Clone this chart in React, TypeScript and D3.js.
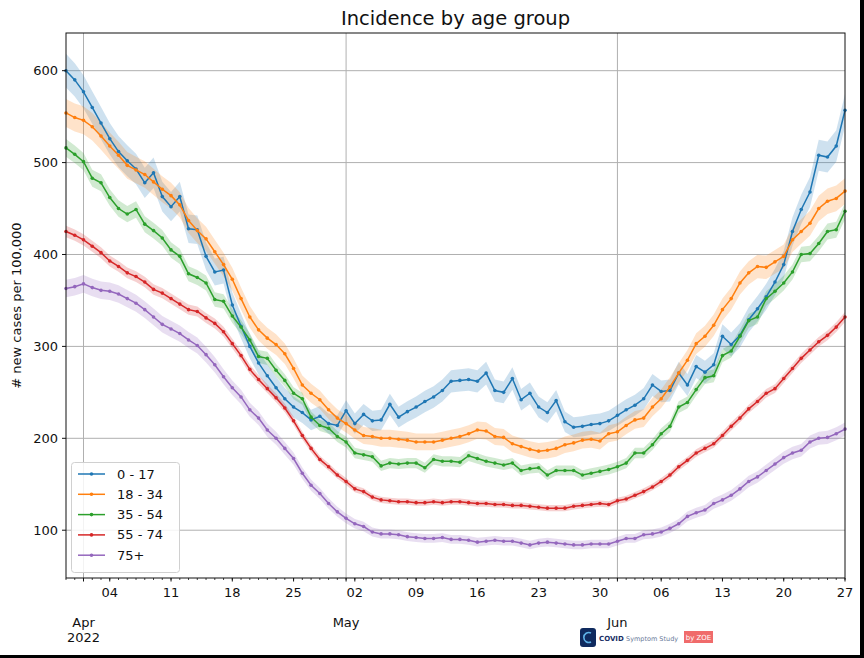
import React from "react";
import * as d3 from "d3";

const START = new Date(2022, 2, 30);
const END = new Date(2022, 5, 27);
const dates: Date[] = d3.timeDay.range(START, d3.timeDay.offset(END, 1));

const seriesNames = ["0 - 17", "18 - 34", "35 - 54", "55 - 74", "75+"];
const seriesColors = ["#1f77b4", "#ff7f0e", "#2ca02c", "#d62728", "#9467bd"];
// confidence band half-width scale (multiplied by sqrt of the value)
const ciScale = [0.75, 0.65, 0.42, 0.3, 0.5];

const age0_17 = [600,590,577,560,543,526,512,502,493,478,
489,463,452,463,428,427,398,381,383,345,
322,300,282,268,255,243,234,228,220,224,
216,214,230,216,226,219,220,237,223,229,
234,240,245,252,262,263,264,262,271,252,
250,265,242,249,234,228,241,218,212,213,
215,216,219,225,231,236,243,258,251,252,
271,258,278,272,280,311,302,312,329,341,
354,370,389,425,449,468,508,506,518,557];

const age18_34 = [554,549,546,539,529,518,508,497,492,487,
479,471,464,454,437,426,417,403,389,373,
352,332,318,309,302,292,276,258,249,242,
231,222,216,209,203,202,200,200,199,198,
196,196,196,198,200,202,205,209,208,202,
201,194,191,188,186,187,189,193,195,198,
199,197,205,207,214,220,222,234,243,256,
271,285,303,311,323,340,352,369,380,387,
386,392,398,416,425,434,450,458,461,469];

const age35_54 = [516,509,501,483,478,462,450,444,449,433,
426,418,405,398,379,375,369,351,349,333,
321,307,289,287,274,263,249,243,223,214,
211,202,196,184,182,180,170,173,172,173,
173,168,177,175,175,174,181,178,175,173,
171,173,165,167,168,160,165,165,165,160,
162,164,166,169,173,184,184,193,205,213,
234,239,253,266,268,290,295,311,328,332,
352,360,369,381,400,401,412,425,427,447];

const age55_74 = [425,421,416,409,402,393,387,380,376,370,
362,358,352,346,340,338,331,325,316,303,
290,275,264,254,244,233,219,203,189,177,
169,160,153,145,142,136,133,132,131,131,
130,130,131,130,131,131,130,129,129,128,
128,127,127,126,125,124,124,124,126,127,
128,129,128,132,134,138,142,147,153,160,
169,176,184,189,194,203,213,222,232,240,
249,254,265,276,287,296,305,312,321,332];

const age75plus = [363,365,368,364,361,360,357,352,347,340,
332,324,319,314,307,301,291,280,267,255,
245,231,222,209,200,189,178,162,149,140,
129,120,113,107,104,98,96,96,95,93,
92,91,91,92,90,90,89,87,88,89,
88,88,86,84,86,87,86,85,84,84,
85,85,85,88,91,91,95,96,98,102,
107,115,119,122,129,133,138,145,153,158,
165,172,179,184,187,196,200,201,205,210];

const seriesValues = [age0_17, age18_34, age35_54, age55_74, age75plus];
const yTicks = [100, 200, 300, 400, 500, 600];

const L = 66, R = 845, T = 33, B = 578;
const FONT = "DejaVu Sans, sans-serif";

export default function App() {
  const x = d3.scaleTime().domain([START, END]).range([L, R]);
  const y = d3.scaleLinear().domain([48, 641]).range([B, T]);

  const line = d3.line<[Date, number]>().x(d => x(d[0])).y(d => y(d[1]));
  const days = d3.timeDay.range(START, d3.timeDay.offset(END, 1));
  const weeks = d3.timeMonday.range(START, d3.timeDay.offset(END, 1));
  const months = d3.timeMonth.range(d3.timeDay.offset(START, 1), d3.timeDay.offset(END, 1));
  const fmtDay = d3.timeFormat("%d");
  const fmtMon = d3.timeFormat("%b");

  return (
    <div style={{ position: "absolute", left: 0, top: 0 }}>
      <svg width={864} height={658} style={{ display: "block", background: "#fff" }} fontFamily={FONT}>
        <rect x={0} y={0} width={864} height={658} fill="#fff" />
        <text x={(L + R) / 2} y={25} textAnchor="middle" fontSize={19.5} fill="#111">Incidence by age group</text>

        {/* grid */}
        {yTicks.map(t => (
          <line key={"gy" + t} x1={L} x2={R} y1={y(t)} y2={y(t)} stroke="#b0b0b0" strokeWidth={1} />
        ))}
        {months.map(m => (
          <line key={"gx" + m.getTime()} x1={x(m)} x2={x(m)} y1={T} y2={B} stroke="#b0b0b0" strokeWidth={1} />
        ))}

        {/* bands */}
        {seriesValues.map((vals, i) => {
          const area = d3.area<number>()
            .x((_, k) => x(dates[k]))
            .y0(v => y(v - ciScale[i] * Math.sqrt(v)))
            .y1(v => y(v + ciScale[i] * Math.sqrt(v)));
          return <path key={"band" + i} d={area(vals) || ""} fill={seriesColors[i]} fillOpacity={0.22} stroke="none" />;
        })}

        {/* lines */}
        {seriesValues.map((vals, i) => {
          const pts: [Date, number][] = vals.map((v, k) => [dates[k], v]);
          return (
            <g key={"s" + i}>
              <path d={line(pts) || ""} fill="none" stroke={seriesColors[i]} strokeWidth={1.5} />
              {pts.map((p, k) => (
                <circle key={k} cx={x(p[0])} cy={y(p[1])} r={1.8} fill={seriesColors[i]} />
              ))}
            </g>
          );
        })}

        {/* frame */}
        <rect x={L} y={T} width={R - L} height={B - T} fill="none" stroke="#111" strokeWidth={1} />

        {/* y axis */}
        {yTicks.map(t => (
          <g key={"yt" + t}>
            <line x1={L - 4} x2={L} y1={y(t)} y2={y(t)} stroke="#111" />
            <text x={L - 8} y={y(t)} dy="0.35em" textAnchor="end" fontSize={13} fill="#111">{t}</text>
          </g>
        ))}
        <text transform={`translate(21,${(T + B) / 2}) rotate(-90)`} textAnchor="middle" fontSize={13} fill="#111"># new cases per 100,000</text>

        {/* x axis */}
        {days.map(d => (
          <line key={"dt" + d.getTime()} x1={x(d)} x2={x(d)} y1={B} y2={B + 2} stroke="#111" strokeWidth={0.8} />
        ))}
        {weeks.map(w => (
          <g key={"wt" + w.getTime()}>
            <line x1={x(w)} x2={x(w)} y1={B} y2={B + 3.5} stroke="#111" />
            <text x={x(w)} y={597} textAnchor="middle" fontSize={13} fill="#111">{fmtDay(w)}</text>
          </g>
        ))}
        {months.map((m, i) => (
          <g key={"mt" + m.getTime()}>
            <line x1={x(m)} x2={x(m)} y1={B} y2={B + 3.5} stroke="#111" />
            <text x={x(m)} y={627} textAnchor="middle" fontSize={13} fill="#111">{fmtMon(m)}</text>
            {i === 0 && <text x={x(m)} y={642} textAnchor="middle" fontSize={13} fill="#111">2022</text>}
          </g>
        ))}

        {/* legend */}
        <rect x={71.5} y={462.5} width={108} height={110} rx={3} fill="#fff" fillOpacity={0.85} stroke="#d0d0d0" />
        {seriesNames.map((n, i) => {
          const ly = 474 + i * 20.3;
          return (
            <g key={"lg" + i}>
              <line x1={78} x2={105} y1={ly} y2={ly} stroke={seriesColors[i]} strokeWidth={1.5} />
              <circle cx={91.5} cy={ly} r={1.8} fill={seriesColors[i]} />
              <text x={117} y={ly} dy="0.35em" fontSize={13} fill="#111">{n}</text>
            </g>
          );
        })}

        {/* logo */}
        <rect x={580} y={628} width={16} height={19} rx={3} fill="#0f2a5e" />
        <path d="M591,633 A5,5 0 1,0 591,642" fill="none" stroke="#5fb3e8" strokeWidth={1.6} />
        <text x={599} y={641} fontSize={7} fontWeight="bold" fill="#1a2f66">COVID</text>
        <text x={626} y={641} fontSize={6.5} fill="#6a7a99">Symptom Study</text>
        <rect x={684} y={631} width={29} height={12} fill="#f06b6b" />
        <text x={698.5} y={640} textAnchor="middle" fontSize={7} fill="#fff">by ZOE</text>

        {/* screenshot border */}
        <rect x={860} y={0} width={4} height={658} fill="#000" />
        <rect x={0} y={655} width={864} height={3} fill="#000" />
      </svg>
    </div>
  );
}
